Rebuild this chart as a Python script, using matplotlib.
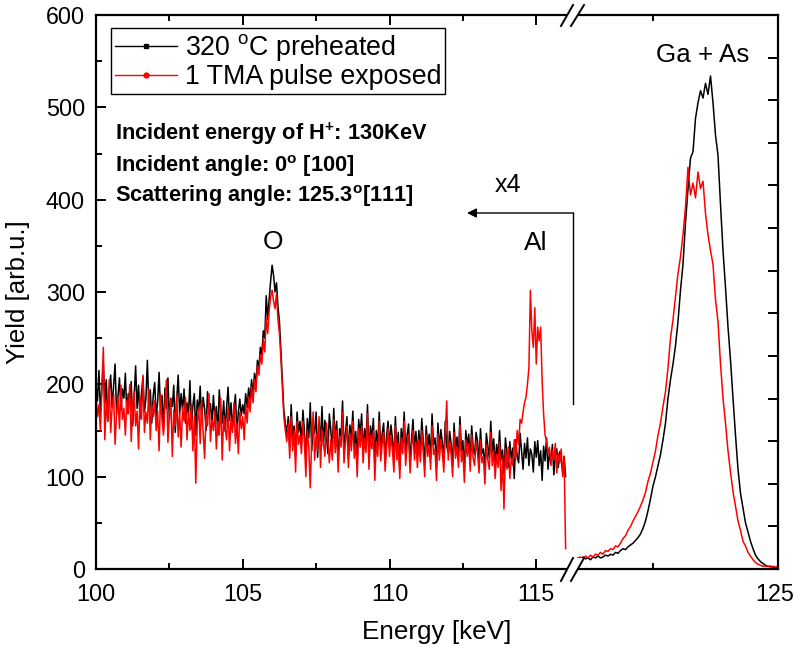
import numpy as np
import matplotlib
matplotlib.use('Agg')
import matplotlib.pyplot as plt
from matplotlib.lines import Line2D
from matplotlib.patches import Polygon
import matplotlib.transforms as mtransforms

plt.rcParams['font.family'] = ['Liberation Sans', 'DejaVu Sans']
plt.rcParams['mathtext.fontset'] = 'custom'
plt.rcParams['mathtext.rm'] = 'Liberation Sans'
plt.rcParams['mathtext.bf'] = 'Liberation Sans:bold'
plt.rcParams['mathtext.it'] = 'Liberation Sans:italic'

# ---------------- data ----------------
low_range = (100.0, 116.0)   # keV, channels every 0.05 keV
high_range = (121.0, 125.0)  # keV, channels every 0.05 keV

yield_low_preheated = [
    200, 182, 215, 170, 196, 224, 178, 205, 160, 192, 210, 175, 198, 222, 168, 188, 207, 172, 195, 185,
    212, 168, 190, 178, 203, 155, 186, 220, 174, 199, 163, 191, 208, 170, 184, 226, 176, 194, 158, 188,
    202, 165, 181, 213, 170, 188, 150, 196, 174, 207, 161, 185, 176, 199, 148, 183, 210, 168, 190, 172,
    195, 158, 180, 166, 204, 152, 177, 190, 145, 183, 171, 198, 160, 186, 174, 150, 192, 168, 179, 157,
    188, 163, 176, 145, 194, 170, 158, 182, 149, 175, 197, 161, 180, 153, 172, 189, 147, 170, 184, 166,
    178, 168, 190, 175, 196, 183, 205, 188, 212, 200, 226, 218, 240, 232, 258, 250, 296, 270, 292, 312,
    329, 318, 300, 310, 284, 268, 236, 205, 172, 158, 146, 165, 132, 178, 140, 155, 122, 170, 148, 160,
    136, 172, 150, 118, 163, 142, 180, 128, 155, 147, 170, 121, 158, 139, 176, 133, 161, 145, 125, 168,
    150, 130, 174, 138, 160, 115, 152, 143, 182, 127, 148, 165, 120, 156, 140, 171, 132, 149, 118, 162,
    145, 168, 126, 152, 137, 178, 122, 155, 141, 163, 112, 150, 133, 170, 128, 146, 158, 119, 143, 160,
    132, 156, 141, 118, 165, 129, 148, 108, 152, 136, 170, 124, 145, 157, 116, 140, 162, 130, 149, 121,
    150, 127, 163, 138, 114, 155, 132, 146, 120, 168, 135, 142, 110, 158, 129, 151, 137, 118, 160, 133,
    126, 149, 135, 112, 158, 130, 143, 121, 165, 128, 139, 105, 150, 133, 146, 117, 155, 131, 124, 148,
    138, 115, 152, 125, 130, 108, 147, 133, 120, 160, 126, 141, 112, 135, 122, 150, 118, 129, 103, 142,
    125, 110, 138, 119, 131, 98, 140, 122, 115, 147, 127, 108, 136, 120, 142, 112, 130, 124, 105, 138,
    121, 139, 112, 128, 96, 133, 117, 142, 108, 126, 115, 135, 102, 124, 130, 110, 127, 118, 105, 122,
    100,
]

yield_low_tma = [
    188, 165, 178, 150, 196, 240, 140, 182, 160, 205, 148, 175, 190, 135, 168, 186, 152, 199, 162, 174,
    145, 183, 168, 200, 138, 176, 192, 155, 171, 130, 186, 162, 210, 148, 170, 158, 195, 140, 178, 165,
    182, 150, 171, 128, 190, 160, 145, 178, 205, 137, 166, 184, 122, 172, 155, 188, 143, 169, 132, 175,
    160, 186, 140, 170, 150, 178, 128, 165, 93, 158, 175, 136, 182, 148, 120, 168, 155, 190, 138, 162,
    150, 172, 130, 160, 145, 185, 118, 166, 153, 140, 175, 128, 162, 148, 180, 136, 158, 125, 170, 152,
    165, 140, 178, 158, 186, 170, 198, 180, 205, 192, 220, 210, 232, 222, 248, 235, 272, 255, 280, 295,
    302, 290, 282, 298, 270, 255, 228, 196, 165, 150, 138, 158, 120, 165, 128, 150, 105, 160, 135, 145,
    125, 160, 138, 100, 150, 132, 88, 140, 170, 118, 146, 128, 165, 110, 150, 136, 122, 158, 140, 115,
    140, 118, 162, 126, 150, 105, 144, 132, 170, 115, 138, 155, 110, 147, 128, 160, 120, 136, 100, 152,
    132, 155, 115, 142, 126, 168, 108, 145, 130, 150, 96, 138, 122, 160, 117, 135, 148, 106, 130, 152,
    122, 145, 128, 105, 155, 118, 136, 98, 142, 125, 160, 112, 134, 146, 104, 130, 150, 118, 138, 110,
    140, 116, 150, 126, 100, 145, 122, 134, 108, 155, 124, 130, 96, 146, 118, 140, 126, 105, 148, 182,
    118, 138, 124, 100, 148, 120, 132, 110, 156, 116, 128, 94, 140, 122, 136, 106, 145, 120, 112, 138,
    126, 104, 140, 115, 122, 92, 135, 118, 108, 148, 112, 128, 98, 124, 110, 138, 85, 120, 65, 130,
    108, 132, 98, 120, 112, 140, 118, 150, 135, 162, 158, 170, 180, 186, 200, 218, 302, 258, 240, 283,
    222, 262, 247, 262, 204, 168, 145, 139, 125, 132, 112, 128, 118, 136, 104, 125, 115, 130, 100, 122,
    22,
]

yield_high_preheated = [
    12, 10, 13, 11, 12, 10, 13, 12, 14, 12,
    13, 15, 14, 16, 15, 18, 17, 20, 22, 21,
    24, 26, 28, 31, 34, 38, 44, 52, 63, 76,
    90, 100, 112, 124, 140, 158, 185, 205, 222, 242,
    268, 302, 330, 375, 412, 445, 452, 488, 505, 518,
    510, 526, 514, 534, 505, 470, 448, 395, 345, 305,
    262, 226, 185, 145, 108, 82, 66, 50, 40, 30,
    22, 15, 11, 8, 6, 4, 3, 3, 2, 2,
    2,
]

yield_high_tma = [
    12, 13, 11, 14, 12, 15, 13, 16, 15, 18,
    16, 20, 19, 22, 21, 25, 24, 28, 33, 36,
    42, 46, 52, 57, 62, 68, 75, 83, 95, 104,
    116, 128, 145, 158, 176, 192, 218, 250, 270, 295,
    320, 338, 362, 392, 435, 405, 418, 402, 430, 412,
    420, 385, 362, 345, 330, 292, 268, 222, 185, 158,
    128, 105, 84, 68, 52, 42, 30, 25, 18, 14,
    10, 7, 5, 4, 3, 3, 3, 2, 3, 2,
    2,
]

series_labels = ['320 $^{\\rm o}$C preheated', '1 TMA pulse exposed']
series_colors = ['black', 'red']

energy_low = np.linspace(low_range[0], low_range[1], len(yield_low_preheated))
energy_high = np.linspace(high_range[0], high_range[1], len(yield_high_preheated))

# ---------------- figure ----------------
W, H = 794, 647
fig = plt.figure(figsize=(W / 100, H / 100), dpi=100)


def fx(px):
    return px / W


def fy(py):
    return 1 - py / H


X0, XB, X1 = 96, 575, 778
Y0, Y1 = 15, 569
axL = fig.add_axes([fx(X0), fy(Y1), fx(XB) - fx(X0), fy(Y0) - fy(Y1)])
axR = fig.add_axes([fx(XB), fy(Y1), fx(X1) - fx(XB), fy(Y0) - fy(Y1)])

for ax, e, ys in [(axL, energy_low, [yield_low_preheated, yield_low_tma]),
                  (axR, energy_high, [yield_high_preheated, yield_high_tma])]:
    for y, c in zip(ys, series_colors):
        ax.plot(e, y, color=c, lw=1.1)
    ax.set_ylim(0, 600)
    for s in ax.spines.values():
        s.set_linewidth(1.6)

axL.set_xlim(100, 116.32)
axR.set_xlim(120.94, 125)
axL.spines['right'].set_visible(False)
axR.spines['left'].set_visible(False)

axL.set_xticks([100, 105, 110, 115])
axL.set_xticks([102.5, 107.5, 112.5], minor=True)
axL.set_yticks(np.arange(0, 601, 100))
axL.set_yticks(np.arange(50, 600, 100), minor=True)
axL.tick_params(which='both', direction='in', top=True, right=False, width=1.4,
                labelsize=16.8)
axL.tick_params(axis='x', which='both', pad=10)
axL.tick_params(axis='y', which='both', pad=8)
axL.tick_params(which='major', length=7)
axL.tick_params(which='minor', length=4)

axR.set_xticks([125])
axR.set_xticklabels(['125'])
axR.set_xticks([122.5], minor=True)
axR.set_yticks(np.linspace(0, 600, 14)[1:-1])
axR.set_yticks([], minor=True)
axR.tick_params(which='both', direction='in', top=True, left=False, right=True,
                labelleft=False, labelright=False, width=1.4, labelsize=16.8, pad=10)
axR.tick_params(which='major', length=7)
axR.tick_params(which='minor', length=4)
shift = mtransforms.ScaledTranslation(-3 / 100, 0, fig.dpi_scale_trans)
for lab in axR.get_xticklabels():
    lab.set_transform(lab.get_transform() + shift)

axL.set_ylabel('Yield [arb.u.]', fontsize=18.5)
axL.yaxis.set_label_coords((30 - X0) / (XB - X0), 0.5)
fig.text(fx(437), fy(632), 'Energy [keV]', fontsize=18.8, ha='center', va='center')

# break marks
for (ya, yb) in [(26, 5), (581, 558)]:
    strokes = [((561, ya), (573, yb)), ((571, ya), (584, yb))]
    poly = Polygon([(fx(strokes[0][0][0]), fy(strokes[0][0][1])),
                    (fx(strokes[0][1][0]), fy(strokes[0][1][1])),
                    (fx(strokes[1][1][0]), fy(strokes[1][1][1])),
                    (fx(strokes[1][0][0]), fy(strokes[1][0][1]))],
                   closed=True, transform=fig.transFigure, facecolor='white',
                   edgecolor='none', zorder=5)
    fig.add_artist(poly)
    for (p, q) in strokes:
        fig.add_artist(Line2D([fx(p[0]), fx(q[0])], [fy(p[1]), fy(q[1])],
                              transform=fig.transFigure, color='black', lw=1.4, zorder=6))

# legend
handles = [Line2D([], [], color='black', lw=1, marker='s', markersize=3.5),
           Line2D([], [], color='red', lw=1, marker='o', markersize=3.5)]
leg = axL.legend(handles, series_labels, loc='upper left',
                 bbox_to_anchor=(fx(111), fy(28)), bbox_transform=fig.transFigure,
                 frameon=True, fancybox=False, edgecolor='black', framealpha=1,
                 fontsize=19.3, handlelength=2.3, handletextpad=0.3, borderpad=0.15,
                 labelspacing=0.05, borderaxespad=0)
leg.get_frame().set_linewidth(1.0)

# annotations
info = ['Incident energy of $\\mathbf{H^{+}}$: 130KeV',
        'Incident angle: 0$^{\\bf o}$ [100]',
        'Scattering angle: 125.3$^{\\bf o}$[111]']
for txt, yb in zip(info, [140, 172, 202]):
    fig.text(fx(115), fy(yb), txt, fontsize=15.7, fontweight='bold', va='baseline', ha='left')

fig.text(fx(273), fy(242), 'O', fontsize=19, ha='center', va='center')
fig.text(fx(536), fy(243), 'Al', fontsize=19, ha='center', va='center')
fig.text(fx(508), fy(185), 'x4', fontsize=18, ha='center', va='center')
fig.text(fx(703), fy(55), 'Ga + As', fontsize=18.7, ha='center', va='center')

fig.add_artist(Line2D([fx(573), fx(573)], [fy(213), fy(404)], transform=fig.transFigure,
                      color='black', lw=1.0))
axL.annotate('', xy=(fx(467), fy(213)), xytext=(fx(573.5), fy(213)),
             xycoords='figure fraction', textcoords='figure fraction',
             arrowprops=dict(arrowstyle='-|>', color='black', lw=1.0, mutation_scale=14,
                             shrinkA=0, shrinkB=0))

fig.savefig('out.png', dpi=100)
